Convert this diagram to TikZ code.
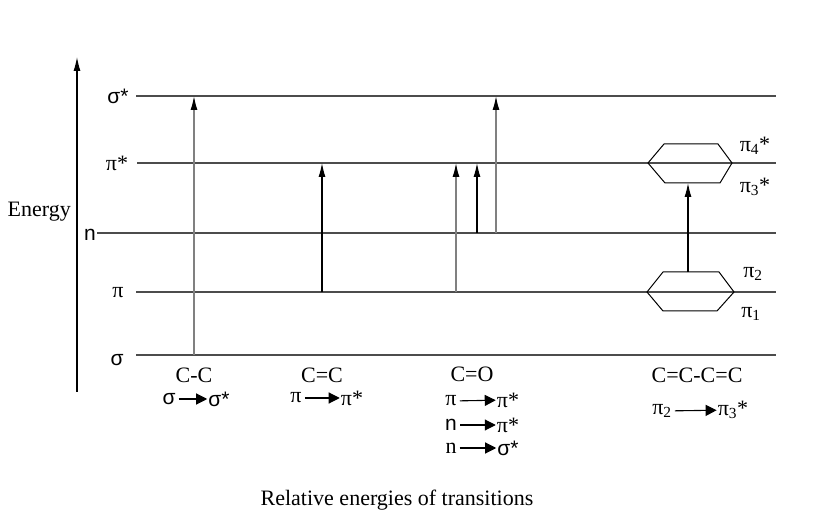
\documentclass[tikz,border=0pt]{standalone}
\usepackage{fontspec}
\setmainfont{Liberation Serif}
\newfontfamily\lsans{Liberation Sans}
\usetikzlibrary{arrows.meta}
\begin{document}
\begin{tikzpicture}[x=1pt,y=-1pt,
  level/.style={draw=black!70,line width=1.1pt},
  trans/.style={draw=black!50,line width=1.4pt,-{Latex[length=14pt,width=7pt,color=black]}},
  transk/.style={draw=black,line width=1.1pt,-{Latex[length=14pt,width=7pt]}},
  txt/.style={inner sep=0pt,font=\fontsize{22}{24}\selectfont},
  stxt/.style={inner sep=0pt,font=\lsans\fontsize{21}{23}\selectfont},
  minarr/.style={draw=black,line width=1.1pt,-{Triangle[length=11pt,width=11pt]},shorten <=3pt,shorten >=1pt},
  hexa/.style={draw=black,line width=1pt}]
\useasboundingbox (0,0) rectangle (836,529);
% energy axis
\coordinate (ab) at (77,392);
\coordinate (at) at (77,57);
\draw[line width=1.1pt,-{Latex[length=14pt,width=7pt]}] (ab) -- (at);
\node[txt,anchor=east] (energy) at (71,212) {Energy};
% level labels
\node[stxt] (lss) at (118,96) {σ*};
\node[txt] (lps) at (117,163) {π*};
\node[stxt,anchor=east] (ln) at (96,235) {n};
\node[txt] (lp) at (118,293) {π};
\node[stxt] (ls) at (117,360) {σ};
% levels
\coordinate (ss0) at (136,96);  \coordinate (ss1) at (776,96);
\coordinate (ps0) at (137,163); \coordinate (ps1) at (776,163);
\coordinate (n0) at (97,233);   \coordinate (n1) at (776,233);
\coordinate (p0) at (136,292);  \coordinate (p1) at (776,292);
\coordinate (s0) at (136,355);  \coordinate (s1) at (776,355);
\draw[level] (ss0) -- (ss1);
\draw[level] (ps0) -- (ps1);
\draw[level] (n0) -- (n1);
\draw[level] (p0) -- (p1);
\draw[level] (s0) -- (s1);
% transitions
\coordinate (a1) at (194,355); \coordinate (a1t) at (194,96);
\draw[trans] (a1) -- (a1t);
\coordinate (a2) at (322,292); \coordinate (a2t) at (322,163);
\draw[transk] (a2) -- (a2t);
\coordinate (a3) at (456,292); \coordinate (a3t) at (456,163);
\draw[trans] (a3) -- (a3t);
\coordinate (a4) at (477,233); \coordinate (a4t) at (477,163);
\draw[transk] (a4) -- (a4t);
\coordinate (a5) at (496,233); \coordinate (a5t) at (496,96);
\draw[trans] (a5) -- (a5t);
% hexagons
\draw[hexa] (648,163) -- (664,144) -- (718,144) -- (732,163) -- (720,183) -- (665,183) -- cycle;
\draw[hexa] (647,292) -- (663,272) -- (719,272) -- (734,292) -- (717,311) -- (663,311) -- cycle;
\coordinate (hb) at (688,272); \coordinate (ht) at (688,183);
\draw[transk] (hb) -- (ht);
\node[txt] (p4) at (755,146) {π\textsubscript{4}*};
\node[txt] (p3) at (755,187) {π\textsubscript{3}*};
\node[txt] (p2) at (753,274) {π\textsubscript{2}};
\node[txt] (p1l) at (751,314) {π\textsubscript{1}};
% bottom labels
\node[txt] (cc) at (194,375) {C-C};
\node[stxt] (t1a) at (169,399) {σ};
\node[stxt] (t1b) at (219,399) {σ*};
\draw[minarr] (t1a) -- (t1b);
\node[txt] (cdc) at (322,375) {C=C};
\node[txt] (t2a) at (296,398) {π};
\node[txt] (t2b) at (352,398) {π*};
\draw[minarr] (t2a) -- (t2b);
\node[txt] (co) at (472,374) {C=O};
\node[txt] (t3a) at (451,401) {π};
\node[txt] (t3b) at (508,400) {π*};
\draw[minarr] (t3a) -- (t3b);
\node[stxt] (t4a) at (451,425) {n};
\node[txt] (t4b) at (508,425) {π*};
\draw[minarr] (t4a) -- (t4b);
\node[txt] (t5a) at (451,448) {n};
\node[stxt] (t5b) at (508,448) {σ*};
\draw[minarr] (t5a) -- (t5b);
\node[txt] (cccc) at (697,375) {C=C-C=C};
\node[txt] (t6a) at (662,411) {π\textsubscript{2}};
\node[txt] (t6b) at (733,410) {π\textsubscript{3}*};
\draw[minarr] (t6a) -- (t6b);
% caption
\node[txt] (cap) at (397,500) {Relative energies of transitions};
\end{tikzpicture}
\end{document}
